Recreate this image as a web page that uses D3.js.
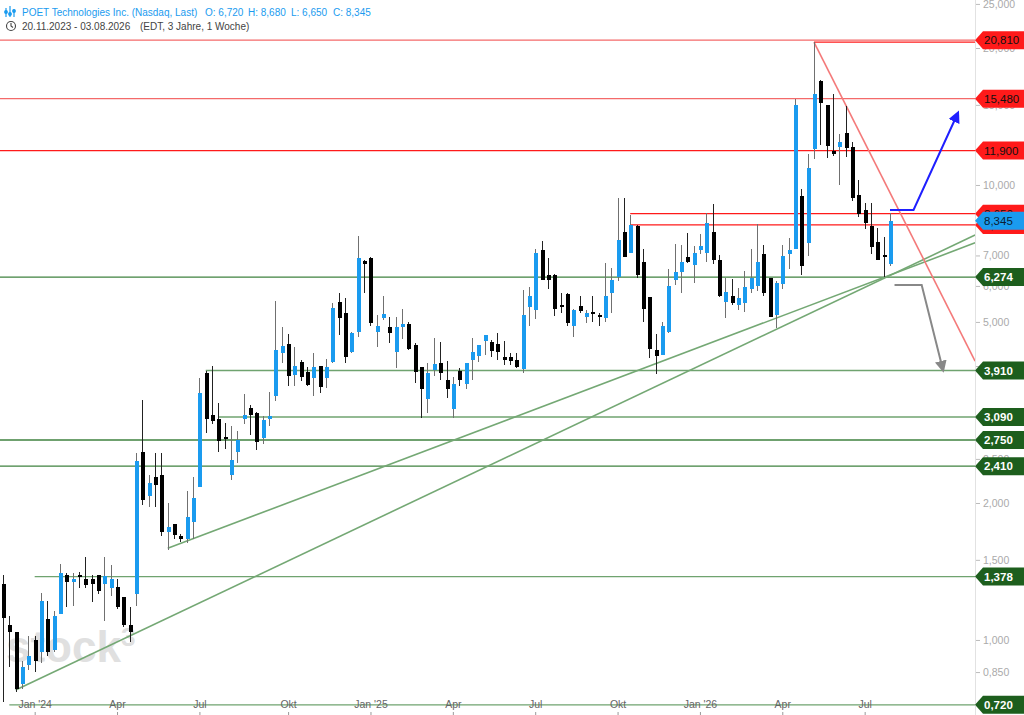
<!DOCTYPE html>
<html>
<head>
<meta charset="utf-8">
<script src="https://cdn.jsdelivr.net/npm/d3@7"></script>
<style>
  body { margin: 0; background: #fff; }
  svg { display: block; font-family: "Liberation Sans", Arial, sans-serif; }
</style>
</head>
<body>
<svg id="chart" width="1024" height="715"></svg>
<script>
// weekly OHLC, POET Technologies (Nasdaq)
const firstWeek = "2023-11-27";
const lastWeek = "2026-08-03";

const opens = [
  1.33,1.08,1.04,0.80,0.88,1.00,0.94,1.11,0.95,1.14,
  1.39,1.34,1.39,1.36,1.36,1.39,1.33,1.30,1.31,1.24,
  1.08,1.26,2.59,2.07,2.28,2.30,1.73,1.80,1.69,1.67,
  1.82,2.17,3.86,3.12,3.06,2.79,2.30,2.59,3.06,3.23,
  3.15,2.78,3.06,3.44,4.27,4.47,3.82,4.08,3.88,3.76,
  4.00,3.76,4.08,5.53,5.23,4.30,4.75,6.80,6.91,4.75,
  5.10,4.87,4.30,4.87,4.94,4.45,3.98,3.39,3.92,4.06,
  3.72,3.22,3.90,3.65,4.12,4.21,4.54,4.52,4.47,4.19,
  4.19,4.12,3.94,5.39,5.31,7.19,6.34,6.34,5.45,5.76,
  4.91,5.42,5.12,5.25,5.18,5.10,5.79,6.28,7.88,7.09,
  8.13,6.76,5.67,4.34,4.23,4.75,6.18,6.43,6.95,6.67,
  7.19,7.09,7.88,6.84,5.53,5.70,5.45,5.50,5.91,6.00,
  7.06,6.25,5.18,6.05,7.06,7.23,9.46,7.46,12.00,16.93,
  15.00,11.88,12.10,13.01,12.10,9.51,8.82,8.13,7.50,7.00,
  6.72
];
const highs = [
  1.39,1.13,1.04,0.90,1.02,1.02,1.27,1.22,1.16,1.47,
  1.40,1.40,1.41,1.52,1.39,1.39,1.52,1.46,1.36,1.24,
  1.18,2.58,3.37,2.31,2.58,2.58,2.00,1.80,1.71,2.13,
  2.28,3.77,3.90,4.00,3.32,3.00,2.95,2.88,3.48,3.28,
  3.17,3.10,3.51,5.56,4.87,4.71,4.40,4.12,3.98,4.27,
  4.00,4.14,5.51,5.79,5.65,4.75,7.73,6.84,6.95,5.18,
  5.70,5.13,5.13,5.34,5.00,4.50,3.98,4.06,4.61,4.52,
  4.10,3.78,3.96,4.06,4.61,4.45,4.68,4.56,4.73,4.54,
  4.28,4.27,5.88,5.97,7.23,7.53,6.91,6.37,5.79,5.79,
  5.34,5.70,5.31,5.70,5.23,6.74,6.58,9.36,9.36,8.59,
  8.17,7.24,5.67,4.71,5.00,6.54,7.42,7.38,7.84,7.35,
  7.79,8.68,9.10,7.00,6.25,6.21,5.94,6.47,7.23,8.21,
  7.38,6.25,6.14,7.38,7.65,15.45,9.80,11.70,20.60,17.00,
  15.00,15.85,12.95,14.90,12.40,10.26,9.13,9.13,8.04,7.70,
  8.68
];
const lows = [
  0.73,0.87,0.77,0.78,0.86,0.85,0.89,0.92,0.94,1.14,
  1.18,1.19,1.30,1.30,1.21,1.26,1.10,1.25,1.17,1.07,
  0.99,1.19,1.98,1.96,1.96,1.69,1.58,1.67,1.64,1.63,
  1.67,2.17,2.85,2.99,2.59,2.63,2.25,2.45,2.98,2.82,
  2.62,2.70,2.96,3.35,4.06,3.61,3.61,3.70,3.61,3.44,
  3.49,3.58,4.06,4.68,4.06,4.27,4.64,5.79,4.90,4.41,
  5.05,4.49,3.96,4.59,4.34,3.67,3.08,3.16,3.80,3.73,
  3.40,3.08,3.61,3.56,3.72,4.08,4.24,4.19,4.12,4.03,
  4.03,3.96,3.86,4.91,5.08,6.18,5.91,5.15,5.23,4.91,
  4.63,5.23,4.97,5.00,4.91,5.00,5.23,6.14,6.95,7.09,
  6.25,5.00,4.17,3.85,4.23,4.73,6.02,5.79,6.74,6.10,
  7.06,6.78,6.70,5.67,5.10,5.45,5.31,5.26,5.79,5.85,
  5.70,5.13,4.85,5.91,6.54,7.23,6.34,6.98,11.40,12.24,
  11.46,11.60,10.00,11.50,9.20,8.50,8.00,7.05,6.84,6.27,
  6.65
];
const closes = [
  1.12,1.04,0.78,0.87,0.92,0.90,1.22,0.94,1.13,1.40,
  1.34,1.36,1.38,1.32,1.33,1.28,1.38,1.36,1.18,1.08,
  1.04,2.47,2.03,2.21,2.19,1.73,1.77,1.70,1.67,1.86,
  2.05,3.49,3.06,3.03,2.74,2.76,2.49,2.75,3.12,3.12,
  2.73,3.04,3.10,4.34,4.43,3.80,4.00,3.78,3.63,3.98,
  3.60,3.98,5.37,5.10,4.19,4.73,6.91,6.70,4.97,4.90,
  5.20,4.73,4.87,4.94,4.36,3.88,3.56,3.86,4.04,3.86,
  3.56,3.65,3.72,4.06,4.30,4.45,4.68,4.32,4.30,4.12,
  4.10,3.98,5.18,5.70,7.09,6.18,6.18,5.34,5.42,4.97,
  5.31,5.29,5.23,5.20,5.12,5.70,6.18,7.57,6.95,8.17,
  6.34,5.34,4.36,4.21,4.90,6.00,6.43,6.76,6.76,7.09,
  7.35,8.25,6.84,5.70,5.82,5.50,5.65,5.97,6.25,6.78,
  5.79,5.13,6.10,6.98,7.19,14.99,6.64,10.90,15.85,15.14,
  12.18,11.70,12.40,12.06,9.36,8.64,8.25,7.30,6.84,6.95,
  8.345
];

// horizontal levels (null start = whole width)
const levelValues = [20.81, 15.48, 11.90, 8.65, 8.17, 6.274, 3.91, 3.09, 2.75, 2.41, 1.378, 0.72];
const levelStarts = [null, null, null, "2025-10-20", "2025-10-20", null, "2024-07-08", "2024-07-22", null, null, "2024-01-01", "2023-12-04"];
const levelKinds  = ["res","res","res","res","res","sup","sup","sup","sup","sup","sup","sup"];

// drawn lines / arrows as [date, price]
const trendUpA  = [["2024-05-27", 1.59], ["2026-11-05", 7.46]];
const trendUpB  = [["2023-12-11", 0.776], ["2026-11-05", 7.76]];
const trendDown = [["2026-05-11", 20.6], ["2026-11-05", 4.10]];
const peakLine  = [["2026-05-11", 20.6], ["2026-11-05", 20.6]];
const arrowUp   = [["2026-08-03", 8.81], ["2026-08-29", 8.81], ["2026-10-16", 14.25]];
const arrowDown = [["2026-08-08", 6.03], ["2026-09-07", 6.03], ["2026-09-30", 3.96]];

const priceTicks = [25, 20, 15, 10, 7, 6, 5, 4, 2.5, 2, 1.5, 1, 0.85];
const dateTicks  = ["2024-01-01","2024-04-01","2024-07-01","2024-10-07","2025-01-06","2025-04-07",
                    "2025-07-07","2025-10-06","2026-01-05","2026-04-06","2026-07-06"];
const dateLabels = ["Jan '24","Apr","Jul","Okt","Jan '25","Apr","Jul","Okt","Jan '26","Apr","Jul"];

const svg = d3.select("svg#chart");
const plotRight = 975, plotBottom = 715;
const parse = d3.timeParse("%Y-%m-%d");
const fmt = v => d3.format(".3f")(v).replace(".", ",");

const weeks = d3.timeMonday.range(parse(firstWeek), d3.timeDay.offset(parse(lastWeek), 1));
const candles = weeks.map((d, i) => ({date: d, o: opens[i], h: highs[i], l: lows[i], c: closes[i]}));

const x = d3.scaleTime().domain([parse(firstWeek), parse(lastWeek)]).range([3, 890]);
const y = d3.scaleLog().domain([0.684, 25.5]).range([plotBottom, 0]);

const blue = "#1a9bef", red = "#ff1a1a", darkGreen = "#1d5e1d";

// watermark
let wm = svg.append("text")
    .attr("x", 6).attr("y", 662)
    .attr("font-size", 44).attr("font-weight", "bold")
    .attr("fill", "#e0e0e0")
    .text("stock");
wm.append("tspan").attr("font-size", 26).attr("dy", -16).text("3");

// level lines
let levels = svg.append("g").attr("id", "levels");
levelValues.forEach((v, i) => {
  let x0 = levelStarts[i] ? x(parse(levelStarts[i])) : 0;
  let isRes = levelKinds[i] == "res";
  let col = isRes ? red : "#3f823f";
  if (v == 15.48 || v == 20.81) col = "#f46a6a";
  if (v == 3.91 || v == 3.09 || v == 1.378 || v == 0.72) col = "#6fa36f";
  levels.append("line")
      .attr("x1", x0).attr("x2", plotRight)
      .attr("y1", y(v)).attr("y2", y(v))
      .attr("stroke", col)
      .attr("stroke-width", isRes ? 1.2 : 1.4);
});

// trend lines
const line = d3.line().x(d => x(parse(d[0]))).y(d => y(d[1]));
let trends = svg.append("g").attr("id", "trends").attr("fill", "none");
[trendUpA, trendUpB].forEach(t => {
  trends.append("path").datum(t).attr("d", line)
      .attr("stroke", "#74a874").attr("stroke-width", 1.6);
});
trends.append("path").datum(trendDown).attr("d", line)
    .attr("stroke", "#f47a7a").attr("stroke-width", 1.6);
trends.append("path").datum(peakLine).attr("d", line)
    .attr("stroke", red).attr("stroke-width", 1.2);

// candles
let cg = svg.append("g").attr("id", "candles").attr("shape-rendering", "crispEdges");
candles.forEach(d => {
  let cx = Math.round(x(d.date));
  let up = d.c >= d.o;
  cg.append("line")
      .attr("x1", cx + 0.5).attr("x2", cx + 0.5)
      .attr("y1", y(d.h)).attr("y2", y(d.l))
      .attr("stroke", up ? "#707070" : "#222");
  let top = y(Math.max(d.o, d.c)), bot = y(Math.min(d.o, d.c));
  cg.append("rect")
      .attr("x", cx - 1.5).attr("width", 4)
      .attr("y", top).attr("height", Math.max(2, bot - top))
      .attr("fill", up ? blue : "#000");
});

// arrows
let defs = svg.append("defs");
[["headBlue", "#1f1fff"], ["headGrey", "#888"]].forEach(m => {
  defs.append("marker")
      .attr("id", m[0]).attr("viewBox", "0 0 10 10")
      .attr("refX", 6).attr("refY", 5)
      .attr("markerWidth", 6).attr("markerHeight", 6)
      .attr("orient", "auto")
    .append("path").attr("d", "M0,0 L10,5 L0,10 z").attr("fill", m[1]);
});
svg.append("path").datum(arrowUp).attr("d", line)
    .attr("fill", "none").attr("stroke", "#1f1fff").attr("stroke-width", 2)
    .attr("marker-end", "url(#headBlue)");
svg.append("path").datum(arrowDown).attr("d", line)
    .attr("fill", "none").attr("stroke", "#888").attr("stroke-width", 2)
    .attr("marker-end", "url(#headGrey)");

// right price axis
svg.append("line")
    .attr("x1", plotRight + 0.5).attr("x2", plotRight + 0.5)
    .attr("y1", 0).attr("y2", plotBottom)
    .attr("stroke", "#e2e2e2");
let rightAxis = d3.axisRight(y).tickValues(priceTicks).tickFormat(fmt).tickSize(4).tickPadding(3);
let ra = svg.append("g")
    .attr("class", "y axis")
    .attr("transform", "translate(" + (plotRight + 1) + ",0)")
    .call(rightAxis);
ra.select(".domain").remove();
ra.selectAll("line").attr("stroke", "#bbb");
ra.selectAll("text").attr("fill", "#aaa").attr("font-size", 10.5).attr("font-family", "Liberation Sans, Arial, sans-serif");

// bottom date axis
let bottomAxis = d3.axisBottom(x).tickValues(dateTicks.map(parse))
    .tickFormat((d, i) => dateLabels[i]).tickSize(3);
let ba = svg.append("g")
    .attr("class", "x axis")
    .attr("transform", "translate(0," + (plotBottom - 3) + ")")
    .call(bottomAxis);
ba.select(".domain").remove();
ba.selectAll("line").attr("stroke", "#999");
ba.selectAll("text").attr("y", -4).attr("dy", 0)
    .attr("fill", "#666").attr("font-size", 10.5).attr("font-family", "Liberation Sans, Arial, sans-serif");

// price tags on the right
function tag(v, fill, textCol, bold) {
  let yy = y(v);
  let g = svg.append("g");
  g.append("path")
      .attr("d", "M" + plotRight + "," + yy + " L" + (plotRight + 8) + "," + (yy - 9) +
                 " L1024," + (yy - 9) + " L1024," + (yy + 9) + " L" + (plotRight + 8) + "," + (yy + 9) + " Z")
      .attr("fill", fill);
  g.append("text")
      .attr("x", plotRight + 9).attr("y", yy + 4)
      .attr("font-size", 11.5).attr("font-weight", bold ? "bold" : "normal")
      .attr("fill", textCol)
      .text(fmt(v));
}
levelValues.forEach((v, i) => {
  if (levelKinds[i] == "res") tag(v, red, "#111", false);
  else tag(v, darkGreen, "#fff", true);
});
tag(closes[closes.length - 1], blue, "#0b1d33", false);

// header
let last = candles[candles.length - 1];
let head = svg.append("g").attr("font-size", 10);
let icon = head.append("g").attr("stroke", blue).attr("stroke-width", 1.2);
[[6, 8, 17], [10, 6, 17], [14, 9, 17]].forEach(b => {
  icon.append("line").attr("x1", b[0]).attr("x2", b[0]).attr("y1", b[1]).attr("y2", b[2]);
});
icon.selectAll("circle").data([[6, 12], [10, 14], [14, 11]]).join("circle")
    .attr("cx", d => d[0]).attr("cy", d => d[1]).attr("r", 1.3).attr("fill", blue);
head.append("text").attr("x", 22).attr("y", 16).attr("fill", blue)
    .text("POET Technologies Inc. (Nasdaq, Last)");
[["O: ", last.o, 205], ["H: ", last.h, 248], ["L: ", last.l, 291], ["C: ", last.c, 333]].forEach(p => {
  head.append("text").attr("x", p[2]).attr("y", 16).attr("fill", blue).text(p[0] + fmt(p[1]));
});
head.append("circle").attr("cx", 11).attr("cy", 26).attr("r", 4.5)
    .attr("fill", "none").attr("stroke", "#444").attr("stroke-width", 1.1);
head.append("path").attr("d", "M11,23 L11,26 L13,27.5")
    .attr("fill", "none").attr("stroke", "#444").attr("stroke-width", 1.1);
head.append("text").attr("x", 22).attr("y", 30).attr("fill", "#444")
    .text("20.11.2023 - 03.08.2026");
head.append("text").attr("x", 140).attr("y", 30).attr("fill", "#444")
    .text("(EDT, 3 Jahre, 1 Woche)");
</script>
</body>
</html>
